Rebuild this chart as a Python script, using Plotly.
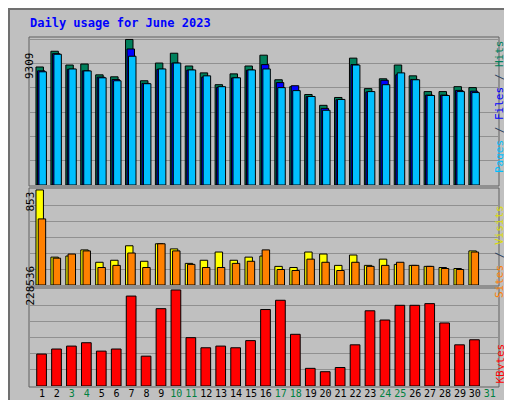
import plotly.graph_objects as go

days = list(range(1, 32))
weekend = [3, 4, 10, 11, 17, 18, 24, 25, 31]

hits = [7548, 8554, 7674, 7737, 7045, 6919, 9309, 6667, 7800, 8428, 7611, 7171, 6416, 7108, 7611,
        8303, 6730, 6290, 5787, 5095, 5598, 8114, 6164, 6793, 7674, 6982, 5975, 5975, 6290, 6230, None]
files = [7300, 8400, 7400, 7300, 6900, 6750, 8700, 6500, 7400, 7800, 7350, 6900, 6250, 6850, 7350,
         7700, 6550, 6350, 5650, 4900, 5450, 7700, 5950, 6700, 7050, 6750, 5750, 5750, 6050, 6000, None]
pages = [7240, 8363, 7422, 7296, 6856, 6668, 8237, 6479, 7422, 7800, 7359, 6982, 6290, 6856, 7359,
         7422, 6227, 6038, 5661, 4780, 5472, 7674, 5975, 6416, 7171, 6730, 5724, 5724, 5975, 5912, None]
visits = [853, 250, 260, 315, 204, 222, 352, 213, 370, 324, 194, 222, 296, 222, 250,
          260, 167, 157, 296, 278, 176, 269, 176, 232, 185, 176, 167, 157, 148, 306, None]
sites = [593, 241, 278, 306, 157, 176, 287, 157, 370, 306, 185, 157, 157, 194, 213,
         315, 139, 130, 232, 204, 130, 204, 167, 176, 204, 176, 167, 148, 139, 296, None]
kbytes = [76000, 88000, 95000, 103000, 83000, 88000, 214000, 71000, 184000, 228536, 115000, 91000,
          95000, 91000, 108000, 182000, 204000, 123000, 42000, 34000, 44000, 98000, 179000, 157000,
          192000, 192000, 196000, 150000, 98000, 110000, None]
max_hits, max_visits, max_kb = 9309, 853, 228536

W, H = 512, 400
def fx(px): return px / W
def fy(py): return 1 - py / H

fig = go.Figure()
def bars(y, color, ax, off, wid, name):
    fig.add_trace(go.Bar(x=days, y=y, offset=off, width=wid, marker_color=color,
                         marker_line=dict(color='black', width=1), xaxis='x' + ax, yaxis='y' + ax,
                         name=name, showlegend=False))

bars(hits, '#00805C', '', -0.4, 0.5, 'Hits')
bars(files, '#0000FF', '', -0.3, 0.5, 'Files')
bars(pages, '#00C0FF', '', -0.2, 0.5, 'Pages')
bars(visits, '#FFFF00', '2', -0.4, 0.5, 'Visits')
bars(sites, '#FF8000', '2', -0.25, 0.5, 'Sites')
bars(kbytes, '#FF0000', '3', -0.35, 0.65, 'KBytes')

xdom = [fx(22), fx(490)]
panels = [('', 30, 177, max_hits), ('2', 181, 277, max_visits), ('3', 281, 378, max_kb)]
lay = {}
for ax, top, bot, mx in panels:
    lay['xaxis' + ax] = dict(domain=xdom, range=[0.2, 31.55], showgrid=False, zeroline=False,
                             showticklabels=(ax == '3'), anchor='y' + ax, fixedrange=True,
                             tickvals=days, tickangle=0,
                             ticktext=[f'<span style="color:{"#008040" if d in weekend else "black"}">{d}</span>' for d in days],
                             ticks='', tickfont=dict(family='DejaVu Sans Mono', size=10))
    lay['yaxis' + ax] = dict(domain=[fy(bot), fy(top)], range=[0, mx * 1.01], anchor='x' + ax,
                             tickvals=[mx * k / 6 for k in range(1, 7)], showticklabels=False,
                             gridcolor='#909090', zeroline=False)

fig.update_layout(width=W, height=H, margin=dict(l=0, r=0, t=0, b=0), barmode='overlay',
                  paper_bgcolor='#C0C0C0', plot_bgcolor='#C0C0C0', **lay)

shapes = [dict(type='rect', xref='paper', yref='paper', x0=fx(1), x1=fx(511), y0=fy(399), y1=fy(1),
               line=dict(color='#707070', width=2))]
for ax, top, bot, mx in panels:
    shapes.append(dict(type='rect', xref='paper', yref='paper', x0=fx(21), x1=fx(491), y0=fy(bot + 1), y1=fy(top - 1),
                       line=dict(color='#606060', width=1)))
fig.update_layout(shapes=shapes)

mono = 'DejaVu Sans Mono'
ann = [dict(text='<b>Daily usage for June 2023</b>', x=fx(20), y=fy(15), xanchor='left', yanchor='middle',
            font=dict(family=mono, size=12, color='#0000FF'))]
for txt, mx_y in [(str(max_hits), 42), (str(max_visits), 194), (str(max_kb), 300)]:
    ann.append(dict(text=txt, x=fx(13), y=fy(mx_y), textangle=-90, font=dict(family=mono, size=11, color='black')))
ann.append(dict(text='<span style="color:#00C0FF">Pages</span> / <span style="color:#0000FF">Files</span> / <span style="color:#00805C">Hits</span>',
                x=fx(500), y=fy(30), yanchor='top', textangle=-90, font=dict(family=mono, size=11)))
ann.append(dict(text='<span style="color:#FF8000">Sites</span> / <span style="color:#DDDD00">Visits</span>',
                x=fx(500), y=fy(195), yanchor='top', textangle=-90, font=dict(family=mono, size=11)))
ann.append(dict(text='<span style="color:#FF0000">KBytes</span>',
                x=fx(500), y=fy(334), yanchor='top', textangle=-90, font=dict(family=mono, size=11)))
for a in ann:
    a.update(xref='paper', yref='paper', showarrow=False)
fig.update_layout(annotations=ann)

fig.write_html("out.html")
